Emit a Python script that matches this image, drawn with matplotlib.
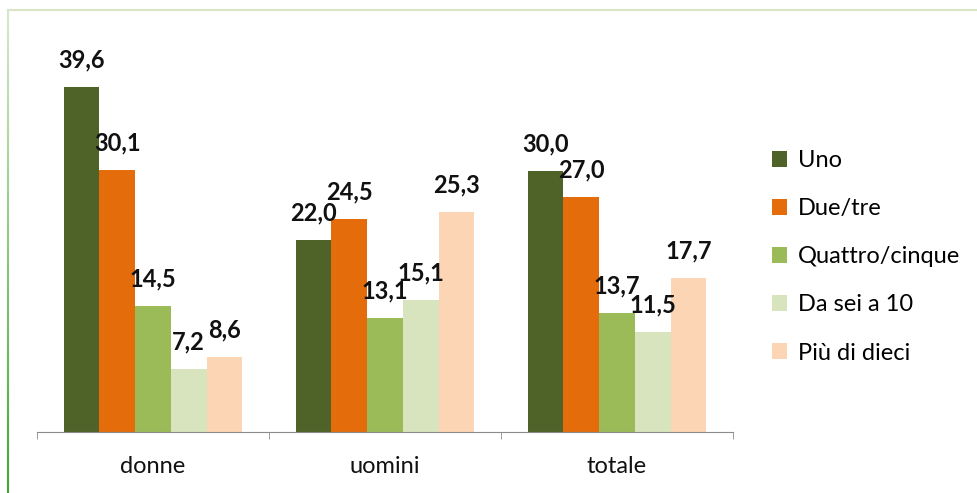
import matplotlib.pyplot as plt
import numpy as np
from matplotlib.lines import Line2D

plt.rcParams['font.family'] = ['Lato', 'DejaVu Sans']

categories = ['donne', 'uomini', 'totale']
series = ['Uno', 'Due/tre', 'Quattro/cinque', 'Da sei a 10', 'Più di dieci']
uno = [39.6, 22.0, 30.0]
due_tre = [30.1, 24.5, 27.0]
quattro_cinque = [14.5, 13.1, 13.7]
da_sei_a_10 = [7.2, 15.1, 11.5]
piu_di_dieci = [8.6, 25.3, 17.7]
colors = ['#4f6228', '#e46c0a', '#9bbb59', '#d7e4bd', '#fcd5b5']

values = [uno, due_tre, quattro_cinque, da_sei_a_10, piu_di_dieci]

fig = plt.figure(figsize=(9.78, 4.93), dpi=100)

# light green frame around the chart (top + left)
fig.add_artist(Line2D([8 / 978, 1], [1 - 10 / 493, 1 - 10 / 493],
                      transform=fig.transFigure, color='#d8e6c6', lw=1.5))
ny = np.linspace(0, 1 - 10 / 493, 60)
for i in range(len(ny) - 1):
    t = 1 - ny[i] / ny[-1]
    c = (0.85 - 0.6 * t, 0.91 - 0.25 * t, 0.80 - 0.6 * t)
    fig.add_artist(Line2D([8 / 978, 8 / 978], [ny[i], ny[i + 1]],
                          transform=fig.transFigure, color=c, lw=1.5))

ax = fig.add_axes([37 / 978, 61 / 493, 696 / 978, 392 / 493])
x = np.arange(len(categories))
w = 0.154
for i, (name, vals) in enumerate(zip(series, values)):
    pos = x - 2 * w + i * w
    ax.bar(pos, vals, width=w, color=colors[i], label=name)
    for p, v in zip(pos, vals):
        ax.annotate(f'{v:.1f}'.replace('.', ','), (p, v), xytext=(0, 19.5),
                    textcoords='offset points', ha='center', va='center',
                    fontsize=17, fontweight='bold', color='#111111')

ax.set_xlim(-0.5, 2.5)
ax.set_ylim(0, 45)
ax.set_yticks([])
for s in ['top', 'right', 'left']:
    ax.spines[s].set_visible(False)
ax.spines['bottom'].set_color('#8c8c8c')
ax.set_xticks([-0.5, 0.5, 1.5, 2.5], minor=True)
ax.set_xticks(x)
ax.set_xticklabels(categories, fontsize=17, color='#111111')
ax.tick_params(axis='x', which='major', length=0, pad=17)
ax.tick_params(axis='x', which='minor', length=5, color='#8c8c8c', direction='out')

ax.legend(loc='upper left', bbox_to_anchor=(772 / 978, 1 - 150 / 493),
          bbox_transform=fig.transFigure, frameon=False, fontsize=17,
          handlelength=0.65, handleheight=0.65, handletextpad=0.45,
          labelspacing=1.15, borderaxespad=0, borderpad=0)

fig.savefig('out.png', dpi=100)
